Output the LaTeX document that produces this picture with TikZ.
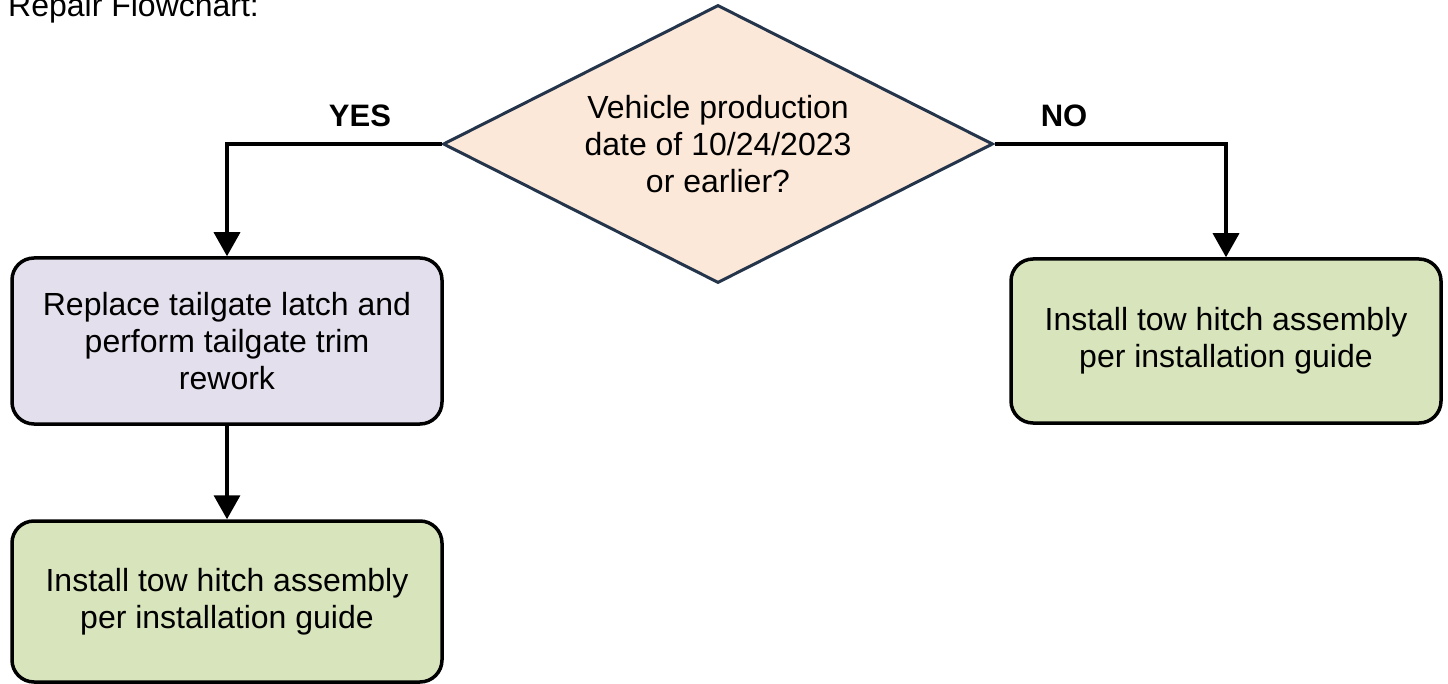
\documentclass[tikz,border=0pt]{standalone}
\usepackage{fontspec}
\setmainfont{Liberation Sans}
\usetikzlibrary{shapes.geometric,arrows.meta}
\definecolor{peach}{HTML}{FCE8D8}
\definecolor{navy}{RGB}{35,52,75}
\definecolor{lilac}{HTML}{E4DFEC}
\definecolor{sage}{HTML}{D8E4BC}
\tikzset{
  body/.style={font=\fontsize{32}{36.8}\selectfont},
  stepbox/.style={draw=black, line width=3.5pt, rounded corners=22pt,
    minimum width=430pt, inner sep=0pt, align=center, body},
  decision/.style={shape=diamond, draw=navy, fill=peach, line width=3pt,
    minimum width=550pt, minimum height=278pt, aspect=1.978, inner sep=0pt,
    align=center, body},
  branchlabel/.style={font=\fontsize{31}{36}\selectfont\bfseries, inner sep=0pt, anchor=base},
  flow/.style={draw=black, line width=3.5pt, -{Triangle[width=26pt,length=24pt]}},
}
\begin{document}
\begin{tikzpicture}[x=1pt,y=-1pt]
\useasboundingbox (0,0) rectangle (1448,684);
\node[body, anchor=base west, inner sep=0pt] (title) at (8,17) {Repair Flowchart:};
\node[decision] (d) at (718,144) {Vehicle production\\date of 10/24/2023\\or earlier?};
\node[stepbox, fill=lilac, minimum height=166pt] (b1) at (227,341)
  {Replace tailgate latch and\\perform tailgate trim\\rework};
\node[stepbox, fill=sage, minimum height=161pt] (b2) at (227,601.5)
  {Install tow hitch assembly\\per installation guide};
\node[stepbox, fill=sage, minimum height=164pt] (b3) at (1226,341)
  {Install tow hitch assembly\\per installation guide};
\node[branchlabel] (yes) at (360,127) {YES};
\node[branchlabel] (no) at (1064,127) {NO};
\draw[flow] (d.west) -| (b1.north);
\draw[flow] (d.east) -| (b3.north);
\draw[flow] (b1.south) -- (b2.north);
\end{tikzpicture}
\end{document}
